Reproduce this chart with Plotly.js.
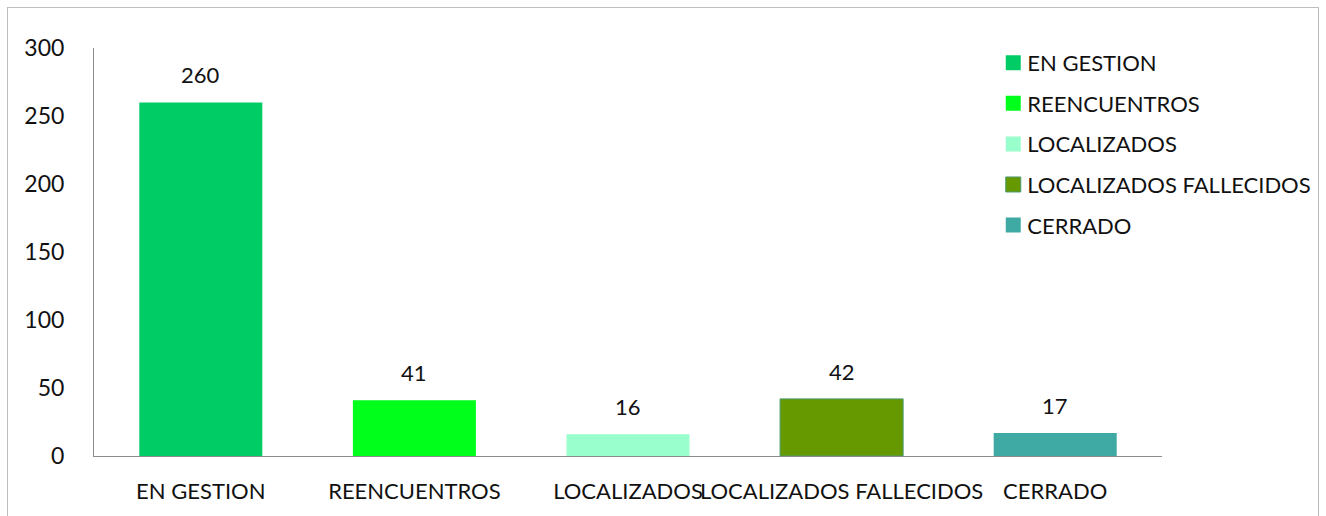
<!DOCTYPE html>
<html>
<head>
<meta charset="utf-8">
<script src="https://cdn.plot.ly/plotly-3.0.1.min.js"></script>
<style>
html,body{margin:0;padding:0;background:#fff;}
#frame{position:absolute;left:7px;top:7px;width:1312px;height:600px;border:1px solid #bdbdbd;box-sizing:border-box;}
#chart{position:absolute;left:0;top:0;width:1326px;height:516px;}
</style>
</head>
<body>
<div id="frame"></div>
<div id="chart"></div>
<script>
const categories = ["EN GESTION", "REENCUENTROS", "LOCALIZADOS", "LOCALIZADOS FALLECIDOS", "CERRADO"];
const values = [260, 41, 16, 42, 17];
const colors = ["#00cc66", "#00ff1a", "#99ffcc", "#669900", "#3fa9a3"];
const yTicks = [0, 50, 100, 150, 200, 250, 300];

const font = "Lato, 'Open Sans', sans-serif";
const traces = categories.map((c, i) => ({
  type: "bar",
  name: c,
  x: [c],
  y: [values[i]],
  width: 0.576,
  legendgroup: "g" + i,
  marker: {color: colors[i], line: {color: i === 3 ? "#4a9a70" : colors[i], width: i === 3 ? 1 : 0}},
  hoverinfo: "x+y"
}));

const annotations = categories.map((c, i) => ({
  x: c, y: values[i], xref: "x", yref: "y",
  text: String(values[i]),
  showarrow: false,
  yanchor: "bottom",
  yshift: 12,
  font: {family: font, size: 22, color: "#111"}
}));

const layout = {
  width: 1326, height: 516,
  paper_bgcolor: "rgba(0,0,0,0)",
  plot_bgcolor: "rgba(0,0,0,0)",
  margin: {l: 94, r: 164, t: 48, b: 60, autoexpand: false},
  barmode: "overlay",
  font: {family: font, size: 22, color: "#111"},
  annotations: annotations,
  xaxis: {
    type: "category",
    categoryarray: categories,
    showgrid: false,
    showline: true, linecolor: "#8c8c8c", linewidth: 1,
    ticks: "", tickfont: {family: font, size: 22, color: "#111"},
    tickangle: 0,
    automargin: false,
    ticklabelstandoff: 16,
    zeroline: false
  },
  yaxis: {
    range: [0, 300],
    tickvals: yTicks,
    ticktext: yTicks.map(String),
    showgrid: false,
    showline: true, linecolor: "#8c8c8c", linewidth: 1,
    ticks: "", tickfont: {family: font, size: 23, color: "#111"},
    ticklabelstandoff: 24,
    automargin: false,
    zeroline: false
  },
  showlegend: true,
  legend: {
    x: 0.842, xanchor: "left", y: 1.015, yanchor: "top",
    font: {family: font, size: 22, color: "#111"},
    traceorder: "grouped",
    tracegroupgap: 9,
    itemwidth: 30,
    bgcolor: "rgba(0,0,0,0)"
  }
};

Plotly.newPlot("chart", traces, layout, {displayModeBar: false, staticPlot: true}).then(gd => {
  gd.querySelectorAll(".legend .legendpoints path").forEach(p => {
    p.setAttribute("d", "M7.5,7.5H-7.5V-7.5H7.5Z");
  });
  gd.querySelectorAll(".legend .legendtext").forEach(t => {
    const x = parseFloat(t.getAttribute("x") || "40");
    t.setAttribute("x", x - 6);
  });
});
</script>
</body>
</html>
